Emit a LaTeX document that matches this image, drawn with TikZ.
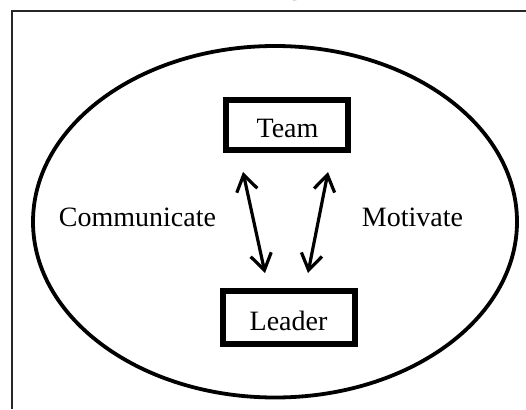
\documentclass[tikz,border=0pt]{standalone}
\usepackage{fontspec}
\setmainfont{Liberation Serif}
\usetikzlibrary{arrows.meta}
\tikzset{
  boxnode/.style={draw, line width=6pt, minimum width=122pt, inner sep=0pt, font=\fontsize{27}{30}\selectfont},
  lbl/.style={font=\fontsize{28}{30}\selectfont, anchor=base, inner sep=0pt},
  dblarrow/.style={line width=3.2pt, {Straight Barb[length=16pt,width=21pt,line width=3.2pt]}-{Straight Barb[length=16pt,width=21pt,line width=3.2pt]}}
}
\begin{document}
\begin{tikzpicture}[x=1pt,y=-1pt]
\useasboundingbox (0,0) rectangle (526,409);
\begin{scope}
\clip (0,0) rectangle (526,409);
\node[font=\fontsize{28}{30}\selectfont\bfseries, anchor=base, inner sep=0pt] (title) at (295,-5.5) {g};
\end{scope}
% frame
\draw[line width=1.6pt, black!85] (12,409) -- (12,11) -- (526,11);
% ellipse
\draw[line width=3.8pt] (275,221.75) ellipse [x radius=242pt, y radius=175.75pt];
% boxes
\node[boxnode, minimum height=50.5pt] (team) at (287.25,124.75) {};
\node[boxnode, minimum width=131.5pt, minimum height=53pt] (leader) at (288.75,317) {};
\node[lbl] (teamtxt) at (287.5,137) {Team};
\node[lbl] (leadertxt) at (288.5,330) {Leader};
% labels
\node[lbl] (comm) at (137.5,226) {Communicate};
\node[lbl] (motiv) at (412.5,226) {Motivate};
% arrows
\coordinate (l1) at (243,172);
\coordinate (l2) at (265,273);
\coordinate (r1) at (328,172);
\coordinate (r2) at (308,273);
\draw[dblarrow] (l1) -- (l2);
\draw[dblarrow] (r1) -- (r2);
\end{tikzpicture}
\end{document}
